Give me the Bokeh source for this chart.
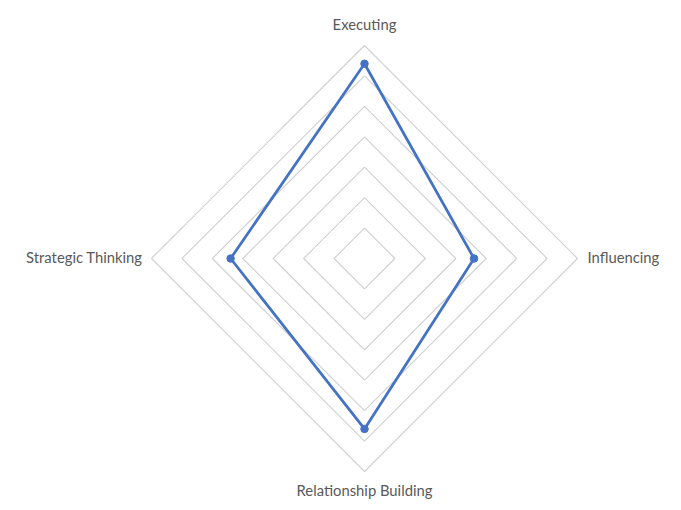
from bokeh.plotting import figure
from bokeh.models import Range1d
from bokeh.embed import file_html
from bokeh.resources import INLINE
from bokeh.core.properties import value
import numpy as np

categories = ["Executing", "Influencing", "Relationship Building", "Strategic Thinking"]
values = [0.32, 0.18, 0.28, 0.22]
ring_levels = [0.05, 0.10, 0.15, 0.20, 0.25, 0.30, 0.35]

# angles: Executing at top, clockwise
n = len(categories)
angles = [np.pi / 2 - 2 * np.pi * i / n for i in range(n)]

PX = 608.6  # pixels per unit
cx, cy = 364, 258
W, H = 681, 510
p = figure(width=W, height=H, output_backend="svg", toolbar_location=None,
           x_range=Range1d((0 - cx) / PX, (W - cx) / PX),
           y_range=Range1d((cy - H) / PX, (cy - 0) / PX),
           min_border=0, outline_line_color=None)
p.axis.visible = False
p.grid.visible = False
p.background_fill_color = "white"
p.border_fill_color = "white"

for r in ring_levels:
    xs = [r * np.cos(a) for a in angles] + [r * np.cos(angles[0])]
    ys = [r * np.sin(a) for a in angles] + [r * np.sin(angles[0])]
    p.line(xs, ys, line_color="#d0d0d0", line_width=1.1)

sx = [v * np.cos(a) for v, a in zip(values, angles)]
sy = [v * np.sin(a) for v, a in zip(values, angles)]
p.line(sx + [sx[0]], sy + [sy[0]], line_color="#4472C4", line_width=2.75, line_join="round")
p.scatter(sx, sy, size=7.5, fill_color="#4472C4", line_color="#4472C4")

rmax = max(ring_levels)
aligns = ["center", "left", "center", "right"]
xoff = [0, 10, 0, -9]
yoff = [-21, -2, 18, -2]
for i, c in enumerate(categories):
    p.text([rmax * np.cos(angles[i])], [rmax * np.sin(angles[i])], text=[c],
           text_align=aligns[i], text_baseline="middle",
           x_offset=xoff[i], y_offset=yoff[i],
           text_font=value("Lato"), text_font_size="14.8px", text_color="#595959")

open("out.html", "w").write(file_html(p, INLINE))
